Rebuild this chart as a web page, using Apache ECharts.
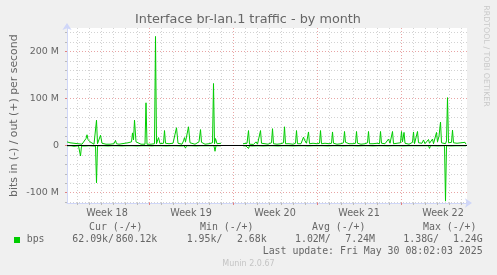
<!DOCTYPE html>
<html><head><meta charset="utf-8">
<script src="https://cdn.jsdelivr.net/npm/echarts@6/dist/echarts.min.js"></script>
<style>html,body{margin:0;padding:0;background:#f0f0f0}#c{width:497px;height:275px}</style>
</head><body><div id="c"></div>
<script>
// ---- texts ----
const titleText = 'Interface br-lan.1 traffic - by month';
const yAxisTitle = 'bits in (-) / out (+) per second';
const watermark = 'RRDTOOL / TOBI OETIKER';
const versionText = 'Munin 2.0.67';
const lastUpdate = 'Last update: Fri May 30 08:02:03 2025';
const legendHeaders = ['Cur (-/+)', 'Min (-/+)', 'Avg (-/+)', 'Max (-/+)'];
const legendName = 'bps';
const legendIn = ['62.09k/', '1.95k/', '1.02M/', '1.38G/'];
const legendOut = ['860.12k', '2.68k', '7.24M', '1.24G'];

// ---- axes (x in hours since Mon Apr 28 00:00; y in Mbit/s) ----
const xMin = -20, xMax = 780;
const weekLabels = ['Week 18', 'Week 19', 'Week 20', 'Week 21', 'Week 22'];
const weekLabelHours = [60, 228, 396, 564, 732];
const weekLineHours = [144, 312, 480, 648];
const dayLineHours = [];
for (let h = 0; h <= 768; h += 24) dayLineHours.push(h);
const yMin = -122, yMax = 250;
const yMajor = [-100, 0, 100, 200];
const yMajorLabels = ['-100 M', '0', '100 M', '200 M'];
const yMinor = [];
for (let v = -120; v <= 240; v += 20) yMinor.push(v);

// ---- data: out (+) ----
const outHours = [-20,-18,-14,-10,-6,-2,2,6,10,14,18,20,22,24,26,30,34,37,39,41,44,47,50,54,58,62,66,70,74,77,79,84,90,96,102,106,109,111,113,115,118,122,128,132,136,138,140,144,148,152,155,157,159,160,163,166,170,173,175,177,180,184,188,192,196,199,202,206,210,213,215,217,221,223,226,230,236,240,244,247,249,252,256,260,264,268,271,273,275,277,280,284,288,
310,
332,336,340,343,345,348,353,356,358,361,365,367,369,372,376,379,382,386,389,391,393,396,400,404,408,413,415,417,420,424,428,432,437,439,441,444,448,451,453,455,457,459,461,463,465,468,472,476,480,485,487,489,492,496,500,504,509,511,513,516,520,524,528,533,535,537,540,544,548,552,557,559,561,564,568,572,576,581,583,585,588,592,596,600,605,607,609,612,616,620,623,626,629,631,633,636,640,644,647,649,651,654,656,660,664,668,671,673,675,679,681,683,686,690,693,696,700,703,705,708,711,713,717,719,721,724,727,729,732,737,739,741,743,746,749,751,753,756,760,764,768,772,776,778];
const outMbps = [8,4,6,3,5,3,4,2.5,3,5,15,23,13,17,8,4,3,4,54,4,3,22,5,4,3,4,3,4,4,11,4,3,4,5,6,5,8,27,12,54,8,4,3,2.5,3,91,3,4,3,4,4,232,4,2.5,17,4,3,5,32,5,3,4,3,5,4,38,5,4,3,10,17,8,7,40,6,4,3,5,8,34,7,5,3,5,4,3,6,132,4,15,4,3,5,
null,
4,3,5,32,3,4,2.5,5,8,3,5,32,5,3,4,8,3,4,6,36,4,5,3,5,4,6,40,4,3,4,5,3,5,32,4,3,4,7,18,12,16,5,6,29,4,3,5,3,4,5,32,4,3,5,3,4,5,29,5,4,3,5,4,6,30,7,5,4,6,4,5,30,5,4,3,5,4,6,30,4,3,4,3,5,4,30,5,3,4,6,14,5,6,30,4,3,5,4,6,30,8,28,5,4,3,5,7,29,4,7,30,6,4,5,12,4,6,13,5,7,14,4,6,28,8,20,50,6,3,4,10,102,6,5,7,33,6,4,5,3,6,4,7,3];

// ---- data: in (-), magnitudes ----
const inHours = [-20,-16,-12,-6,-2,3,5,7,9,12,18,24,30,34,37,39,41,46,54,62,70,80,90,100,110,120,130,140,150,155,158,160,168,178,188,198,208,214,217,219,228,238,248,258,268,274,276,278,282,288,
310,
332,338,341,343,345,350,352,354,362,372,382,392,402,412,422,432,442,452,462,472,482,492,502,512,522,532,542,552,562,572,582,592,602,612,622,632,642,652,662,672,674,676,678,688,698,703,705,707,714,722,730,735,737,739,748,758,768,778];
const inMbps = [0.4,0.8,0.4,1.5,0.4,0.4,4,22,1,0.4,0.8,0.4,0.8,0.4,1,79,0.8,0.4,0.4,0.8,0.4,0.4,0.8,0.4,0.4,0.8,0.4,0.4,0.8,0.4,4,0.4,0.4,0.8,0.4,0.4,0.8,0.4,5,0.4,0.4,0.8,0.4,0.4,0.4,0.4,12,0.4,0.8,0.4,
null,
0.4,0.8,0.4,6,0.4,0.8,3,0.4,0.4,0.8,0.4,0.4,0.8,0.4,0.4,0.8,0.4,0.4,0.8,0.4,0.4,0.4,0.8,0.4,0.4,0.8,0.4,0.4,0.8,0.4,0.4,0.8,0.4,0.4,0.8,0.4,0.4,0.8,0.4,0.4,0.4,4,0.4,0.4,0.4,0.4,6,0.4,0.4,0.8,0.4,0.4,118,0.4,0.8,0.4,0.4,0.4];

const outData = outHours.map((h, i) => [h, outMbps[i]]);
const inData = inHours.map((h, i) => [h, inMbps[i] == null ? null : -inMbps[i]]);

const FONT = 'DejaVu Sans';
const MONO = 'DejaVu Sans Mono';
const TXT = '#666666';
const AXISC = '#cfd6f8';
const GRIDC = '#d2d2d2';
const MGRIDC = '#e8a4a4';
const GREEN = '#00cc00';

function txt(text, x, y, opt) {
  return {
    type: 'text', silent: true, z: 10,
    x: x, y: y, rotation: (opt && opt.rotation) || 0,
    style: Object.assign({
      text: text, fill: TXT, font: '9.9px ' + MONO,
      align: 'left', verticalAlign: 'middle',
      textAlign: 'left', textVerticalAlign: 'middle'
    }, (opt && opt.style) || {})
  };
}

const legendHeaderX = [89, 200, 312, 423];
const legendInX = [72.3, 186.7, 295, 403.3];
const legendOutRightX = [157.3, 266.7, 375, 482.7];

const graphics = [
  txt(titleText, 248, 19.5, {style: {font: '12.8px ' + FONT, align: 'center', textAlign: 'center'}}),
  txt(yAxisTitle, 14.5, 115.7, {rotation: Math.PI / 2, style: {font: '10.9px ' + FONT, align: 'center', textAlign: 'center'}}),
  txt(watermark, 486.5, 56, {rotation: -Math.PI / 2, style: {font: '7.9px ' + FONT, fill: '#c8c8c8', align: 'center', textAlign: 'center'}}),
  txt(versionText, 248.5, 264, {style: {font: '8px ' + FONT, fill: '#c4c4c4', align: 'center', textAlign: 'center'}}),
  txt(lastUpdate, 482.7, 251.7, {style: {align: 'right', textAlign: 'right'}}),
  {type: 'rect', silent: true, shape: {x: 14, y: 237, width: 6, height: 6}, style: {fill: GREEN}},
  txt(legendName, 26.7, 239.7)
];
legendHeaders.forEach((t, i) => graphics.push(txt(t, legendHeaderX[i], 227.3)));
legendIn.forEach((t, i) => graphics.push(txt(t, legendInX[i], 239.7)));
legendOut.forEach((t, i) => graphics.push(txt(t, legendOutRightX[i], 239.7, {style: {align: 'right', textAlign: 'right'}})));

const dotted = (c) => ({show: true, lineStyle: {color: c, width: 1, type: [1, 2]}});

const option = {
  animation: false,
  backgroundColor: '#f0f0f0',
  grid: {left: 67, right: 30, top: 28, bottom: 72, show: true, backgroundColor: '#ffffff', borderWidth: 0},
  xAxis: [
    {
      type: 'value', min: xMin, max: xMax, position: 'bottom',
      axisLine: {show: true, onZero: false, lineStyle: {color: AXISC, width: 1}, symbol: ['none', 'arrow'], symbolSize: [7, 7], symbolOffset: [0, 5]},
      axisTick: {show: true, customValues: dayLineHours, length: 2, lineStyle: {color: '#bbbbbb'}},
      axisLabel: {show: false},
      splitLine: dotted(GRIDC)
    },
    {
      type: 'value', min: xMin, max: xMax, position: 'bottom',
      axisLine: {show: false, onZero: false},
      axisTick: {show: true, customValues: weekLineHours, length: 2, lineStyle: {color: '#e08080'}},
      axisLabel: {show: true, customValues: weekLabelHours, formatter: (v) => weekLabels[weekLabelHours.indexOf(v)],
        color: TXT, fontFamily: FONT, fontSize: 9.6, margin: 5},
      splitLine: dotted(MGRIDC)
    }
  ],
  yAxis: [
    {
      type: 'value', min: yMin, max: yMax, position: 'left',
      axisLine: {show: true, onZero: false, lineStyle: {color: AXISC, width: 1}, symbol: ['none', 'arrow'], symbolSize: [7, 7], symbolOffset: [0, 5]},
      axisTick: {show: true, customValues: yMinor, length: 2, lineStyle: {color: '#bbbbbb'}},
      axisLabel: {show: false},
      splitLine: dotted(GRIDC)
    },
    {
      type: 'value', min: yMin, max: yMax, position: 'left',
      axisLine: {show: false, onZero: false},
      axisTick: {show: true, customValues: yMajor, length: 2, lineStyle: {color: '#e08080'}},
      axisLabel: {show: true, customValues: yMajor, formatter: (v) => yMajorLabels[yMajor.indexOf(v)],
        color: TXT, fontFamily: FONT, fontSize: 9.5, margin: 8},
      splitLine: dotted(MGRIDC)
    }
  ],
  series: [
    {
      name: 'in', type: 'line', xAxisIndex: 0, yAxisIndex: 0, data: inData,
      showSymbol: false, connectNulls: false, silent: true,
      lineStyle: {color: GREEN, width: 1}, itemStyle: {color: GREEN}
    },
    {
      name: 'out', type: 'line', xAxisIndex: 0, yAxisIndex: 0, data: outData,
      showSymbol: false, connectNulls: false, silent: true,
      lineStyle: {color: GREEN, width: 1}, itemStyle: {color: GREEN},
      markLine: {silent: true, symbol: ['none', 'none'], label: {show: false},
        lineStyle: {color: '#000000', width: 1, type: 'solid'}, data: [{yAxis: 0}]}
    }
  ],
  graphic: graphics
};

const chart = echarts.init(document.getElementById('c'), null, {renderer: 'canvas'});
chart.setOption(option);
</script>
</body></html>
